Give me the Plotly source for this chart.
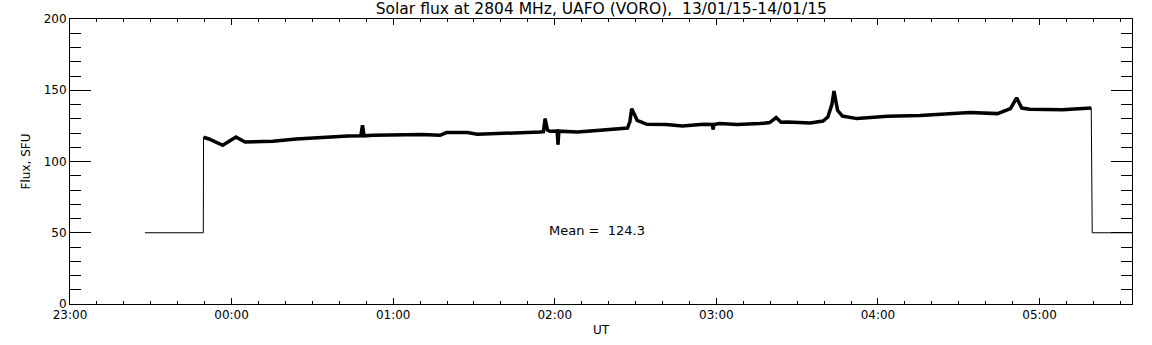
import plotly.graph_objects as go

# Time of each sample (UT) and solar flux (SFU)
times = [
    "2015-01-13 23:27:50", "2015-01-13 23:49:30", "2015-01-13 23:49:35", "2015-01-13 23:51:36",
    "2015-01-13 23:56:42", "2015-01-14 00:01:37", "2015-01-14 00:04:59", "2015-01-14 00:11:38",
    "2015-01-14 00:15:22", "2015-01-14 00:24:00", "2015-01-14 00:31:48", "2015-01-14 00:40:12",
    "2015-01-14 00:43:12", "2015-01-14 00:48:00", "2015-01-14 00:48:36", "2015-01-14 00:49:12",
    "2015-01-14 00:52:30", "2015-01-14 01:10:48", "2015-01-14 01:17:24", "2015-01-14 01:19:48",
    "2015-01-14 01:27:36", "2015-01-14 01:31:12", "2015-01-14 01:42:00", "2015-01-14 01:48:00",
    "2015-01-14 01:54:36", "2015-01-14 01:55:48", "2015-01-14 01:56:24", "2015-01-14 01:57:18",
    "2015-01-14 01:58:12", "2015-01-14 02:00:54", "2015-01-14 02:01:12", "2015-01-14 02:01:30",
    "2015-01-14 02:08:24", "2015-01-14 02:16:48", "2015-01-14 02:27:00", "2015-01-14 02:27:54",
    "2015-01-14 02:28:34", "2015-01-14 02:30:36", "2015-01-14 02:34:12", "2015-01-14 02:41:24",
    "2015-01-14 02:47:24", "2015-01-14 02:55:12", "2015-01-14 02:58:30", "2015-01-14 02:58:48",
    "2015-01-14 02:59:06", "2015-01-14 03:01:12", "2015-01-14 03:07:48", "2015-01-14 03:16:12",
    "2015-01-14 03:19:48", "2015-01-14 03:22:12", "2015-01-14 03:24:00", "2015-01-14 03:26:24",
    "2015-01-14 03:34:48", "2015-01-14 03:39:36", "2015-01-14 03:41:24", "2015-01-14 03:42:54",
    "2015-01-14 03:43:41", "2015-01-14 03:45:00", "2015-01-14 03:46:48", "2015-01-14 03:52:12",
    "2015-01-14 04:03:36", "2015-01-14 04:15:36", "2015-01-14 04:24:00", "2015-01-14 04:34:12",
    "2015-01-14 04:44:24", "2015-01-14 04:49:12", "2015-01-14 04:51:29", "2015-01-14 04:53:24",
    "2015-01-14 04:56:24", "2015-01-14 05:08:24", "2015-01-14 05:19:12", "2015-01-14 05:19:34",
    "2015-01-14 05:34:20",
]
flux = [
    50, 50, 117, 115.8,
    111.4, 117.2, 113.7, 114.4,
    114.2, 115.8, 116.8, 117.3,
    117.9, 118.0, 125.4, 118.0,
    118.4, 118.9, 118.4, 120.3,
    120.3, 119.1, 119.6, 120.3,
    120.7, 121.0, 130.1, 122.0,
    121.2, 121.3, 111.9, 121.3,
    120.7, 121.9, 123.5, 128.0,
    137.1, 128.9, 126.1, 125.9,
    124.9, 126.1, 126.0, 122.4,
    126.0, 126.6, 125.9, 126.6,
    127.3, 130.8, 127.5, 127.7,
    127.0, 128.4, 131.2, 140.0,
    149.4, 135.9, 131.9, 130.1,
    131.7, 132.2, 133.3, 134.3,
    133.6, 137.1, 144.7, 137.5,
    136.6, 136.4, 137.5, 50,
    50,
]
mean_flux = 124.3

x_range = ["2015-01-13 23:00:00", "2015-01-14 05:34:20"]
y_range = [0, 200]

FONT = "DejaVu Sans"

fig = go.Figure()
# thin full trace (flat parts and steps)
fig.add_trace(go.Scatter(x=times, y=flux, mode="lines",
                         line=dict(color="black", width=1), showlegend=False))
# thicker band for the noisy observed part
fig.add_trace(go.Scatter(x=times[2:-2], y=flux[2:-2], mode="lines",
                         line=dict(color="black", width=3.5), showlegend=False))

fig.add_annotation(text="Mean =  %.1f" % mean_flux, xref="paper", yref="paper",
                   x=0.496, y=0.225, showarrow=False,
                   font=dict(family=FONT, size=13, color="black"))

fig.update_layout(
    width=1152, height=345,
    margin=dict(l=70, r=20, t=19, b=41, autoexpand=False),
    paper_bgcolor="white", plot_bgcolor="white",
    font=dict(family=FONT, size=12, color="black"),
    title=dict(text="Solar flux at 2804 MHz, UAFO (VORO),  13/01/15-14/01/15",
               x=0.522, xanchor="center", y=0.975, yanchor="middle",
               font=dict(family=FONT, size=15.5, color="black")),
    xaxis=dict(type="date", range=x_range, tick0="2015-01-13 23:00:00",
               dtick=3600000, tickformat="%H:%M",
               ticks="inside", ticklen=6, tickcolor="black", tickwidth=1,
               minor=dict(dtick=600000, ticks="inside", ticklen=3,
                          tickcolor="black", showgrid=False),
               showline=True, linecolor="black", linewidth=1, mirror="ticks",
               showgrid=False, zeroline=False, automargin=False,
               title=dict(text="UT", standoff=4, font=dict(size=12))),
    yaxis=dict(range=y_range, dtick=50,
               ticks="inside", ticklen=21, tickcolor="black", tickwidth=1,
               minor=dict(dtick=10, ticks="inside", ticklen=11,
                          tickcolor="black", showgrid=False),
               showline=True, linecolor="black", linewidth=1, mirror="ticks",
               showgrid=False, zeroline=False, automargin=False,
               title=dict(text="Flux, SFU", standoff=10, font=dict(size=12))),
)

fig.write_html("out.html", config={"displayModeBar": False},
               post_script="document.body.style.margin='0';document.body.style.padding='0';")
